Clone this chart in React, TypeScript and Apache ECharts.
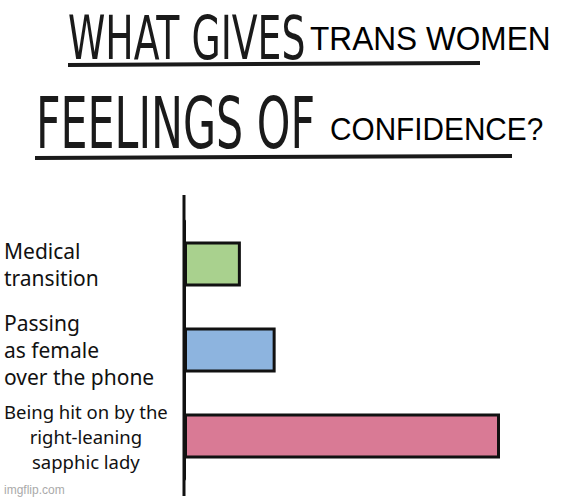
import React, { useEffect, useRef } from "react";
import * as echarts from "echarts";

const categories = [
  "Medical\ntransition",
  "Passing\nas female\nover the phone",
  "Being hit on by the\nright-leaning\nsapphic lady",
];
const values = [18, 29, 100];
const barColors = ["#a9d18e", "#8db4df", "#d97a95"];
const titleLine1 = ["WHAT GIVES", "TRANS WOMEN"];
const titleLine2 = ["FEELINGS OF", "CONFIDENCE?"];
const watermark = "imgflip.com";

export default function App() {
  const ref = useRef<HTMLDivElement>(null);
  useEffect(() => {
    if (!ref.current) return;
    const chart = echarts.init(ref.current, null, { renderer: "svg" });
    const hand = '"Liberation Sans Narrow", "DejaVu Sans Condensed", sans-serif';
    const plain = '"Liberation Sans", Arial, sans-serif';
    chart.setOption({
      animation: false,
      backgroundColor: "#ffffff",
      grid: { left: 184, right: 64, top: 221, bottom: 21, containLabel: false },
      xAxis: { type: "value", min: 0, max: 100, show: false },
      yAxis: {
        type: "category",
        inverse: true,
        data: categories,
        axisLine: { show: true, lineStyle: { color: "#111", width: 3 } },
        axisTick: { show: false },
        axisLabel: {
          align: "left",
          margin: 180,
          fontFamily: '"Noto Sans", sans-serif',
          fontSize: 21,
          lineHeight: 27,
          color: "#111",
          formatter: (v: string, i: number) => {
            if (i === 2) {
              return v
                .split("\n")
                .map((l) => "{c|" + l + "}")
                .join("\n");
            }
            return v;
          },
          rich: {
            c: {
              align: "center",
              fontFamily: '"Noto Sans", sans-serif',
              fontSize: 18.5,
              lineHeight: 25,
              color: "#111",
            },
          },
        },
      },
      series: [
        {
          type: "bar",
          barWidth: 45,
          data: values.map((v, i) => ({
            value: v,
            itemStyle: { color: barColors[i] },
          })),
          itemStyle: { borderColor: "#111", borderWidth: 3 },
        },
      ],
      graphic: [
        { type: "line", shape: { x1: 184, y1: 195, x2: 184, y2: 496 }, style: { stroke: "#111", lineWidth: 3 } },
        {
          type: "text", x: 68, y: 38, scaleX: 0.7,
          style: { text: titleLine1[0], fontFamily: hand, fontSize: 60, fill: "#1a1a1a", verticalAlign: "middle" },
        },
        {
          type: "text", x: 310, y: 38, scaleX: 0.93,
          style: { text: titleLine1[1], fontFamily: plain, fontSize: 34, fill: "#000", verticalAlign: "middle" },
        },
        { type: "line", shape: { x1: 68, y1: 65, x2: 480, y2: 63 }, style: { stroke: "#1a1a1a", lineWidth: 4 } },
        {
          type: "text", x: 36, y: 123, scaleX: 0.66,
          style: { text: titleLine2[0], fontFamily: hand, fontSize: 72, fill: "#1a1a1a", verticalAlign: "middle" },
        },
        {
          type: "text", x: 330, y: 129, scaleX: 0.93,
          style: { text: titleLine2[1], fontFamily: plain, fontSize: 32, fill: "#000", verticalAlign: "middle" },
        },
        { type: "line", shape: { x1: 35, y1: 158, x2: 512, y2: 156 }, style: { stroke: "#1a1a1a", lineWidth: 4 } },
        {
          type: "text", x: 4, y: 490,
          style: { text: watermark, fontFamily: plain, fontSize: 12, fill: "#aaaaaa", verticalAlign: "middle" },
        },
      ],
    });
    return () => chart.dispose();
  }, []);
  return (
    <div
      ref={ref}
      style={{ position: "absolute", left: 0, top: 0, width: 564, height: 500 }}
    />
  );
}
